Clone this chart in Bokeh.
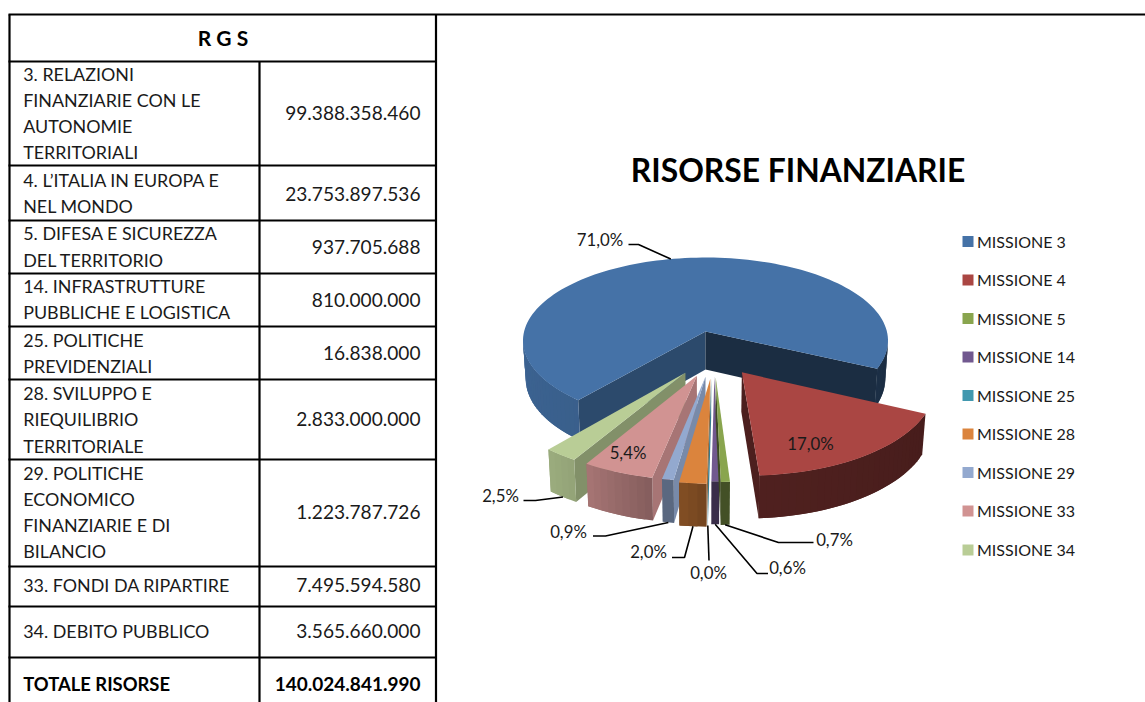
import numpy as np
from bokeh.plotting import figure
from bokeh.models import Range1d
from bokeh.core.properties import value
from bokeh.embed import file_html
from bokeh.resources import INLINE

# ---------- data ----------
missions = ["MISSIONE 3", "MISSIONE 4", "MISSIONE 5", "MISSIONE 14", "MISSIONE 25",
            "MISSIONE 28", "MISSIONE 29", "MISSIONE 33", "MISSIONE 34"]
amounts = [99388358460, 23753897536, 937705688, 810000000, 16838000,
           2833000000, 1223787726, 7495594580, 3565660000]
amount_labels = ["99.388.358.460", "23.753.897.536", "937.705.688", "810.000.000", "16.838.000",
                 "2.833.000.000", "1.223.787.726", "7.495.594.580", "3.565.660.000"]
total_label = "140.024.841.990"
row_names = [
    ["3. RELAZIONI", "FINANZIARIE CON LE", "AUTONOMIE", "TERRITORIALI"],
    ["4. L\u2019ITALIA IN EUROPA E", "NEL MONDO"],
    ["5. DIFESA E SICUREZZA", "DEL TERRITORIO"],
    ["14. INFRASTRUTTURE", "PUBBLICHE E LOGISTICA"],
    ["25. POLITICHE", "PREVIDENZIALI"],
    ["28. SVILUPPO E", "RIEQUILIBRIO", "TERRITORIALE"],
    ["29. POLITICHE", "ECONOMICO", "FINANZIARIE E DI", "BILANCIO"],
    ["33. FONDI DA RIPARTIRE"],
    ["34. DEBITO PUBBLICO"],
]
percent_labels = ["71,0%", "17,0%", "0,7%", "0,6%", "0,0%", "2,0%", "0,9%", "5,4%", "2,5%"]
colors = ["#4572A7", "#AA4643", "#89A54E", "#71588F", "#4198AF", "#DB843D", "#93A9CF", "#D19392", "#B9CD96"]

# ---------- layout (reference pixels) ----------
W, H = 1145, 702
p = figure(width=W, height=H, output_backend="svg", toolbar_location=None,
           x_range=Range1d(0, W), y_range=Range1d(H, 0),
           x_axis_type=None, y_axis_type=None, min_border=0, outline_line_color=None)
p.grid.visible = False

FONT = value("Lato")

# table
h_rows = [14, 61, 165, 220, 273, 326, 379, 459, 566, 606, 657]
hx0 = [8] * 11
hx1 = [W, 436, 436, 436, 436, 436, 436, 436, 436, 436, 436]
p.segment(x0=hx0, y0=h_rows, x1=hx1, y1=h_rows, line_color="black", line_width=2.2)
p.segment(x0=[9, 259, 435.5], y0=[14, 61, 14], x1=[9, 259, 435.5], y1=[H] * 3,
          line_color="black", line_width=2.2)

line_ys = [[73.5, 99.5, 125.5, 151.5], [179, 205], [232, 259], [285, 311], [339, 365],
           [392, 418.5, 445], [472, 498, 524, 550.5], [584], [630]]
val_ys = [112, 193, 246, 299, 352, 418, 511, 584, 630]
lx, ly, lt = [], [], []
for names, ys in zip(row_names, line_ys):
    lx += [22.7] * len(names); ly += ys; lt += names
p.text(x=lx, y=ly, text=lt, text_font=FONT, text_font_size="17.9px", text_align="left",
       text_baseline="middle", text_color="#1a1a1a")
p.text(x=[420] * 9, y=val_ys, text=amount_labels, text_font=FONT, text_font_size="19.1px",
       text_align="right", text_baseline="middle", text_color="#1a1a1a")
p.text(x=[222.5], y=[37], text=["R G S"], text_font=FONT, text_font_size="21px", text_font_style="bold",
       text_align="center", text_baseline="middle", text_color="black")
p.text(x=[22.7], y=[683], text=["TOTALE RISORSE"], text_font=FONT, text_font_size="18.4px",
       text_font_style="bold", text_align="left", text_baseline="middle", text_color="black")
p.text(x=[420], y=[683], text=[total_label], text_font=FONT, text_font_size="19px",
       text_font_style="bold", text_align="right", text_baseline="middle", text_color="black")

# title
p.text(x=[797.5], y=[169], text=["RISORSE FINANZIARIE"], text_font=FONT, text_font_size="31.8px",
       text_font_style="bold", text_align="center", text_baseline="middle", text_color="black")

# 3D pie projection
CX, CY, R, A, K = 705.0, 331.0, 181.4, 82.1, 0.11
DEPTH, DEPTH_SLOPE, SHRINK = 38.0, 0.033, 0.985
START = 220.0
explode = [(0, 0), (.19, -.472), (.053, -.525), (.046, -.52), (.03, -.53),
           (.025, -.54), (0, -.52), (-.045, -.51), (-.105, -.475)]


def top(u, v):
    w = 1 + K * v
    return CX + R * u / w, CY - A * v / w


def bottom(pt):
    x, y = pt
    return CX + (x - CX) * SHRINK, y + DEPTH + (y - CY) * DEPTH_SLOPE


def rim(theta, off):
    t = np.radians(theta)
    return top(off[0] + np.sin(t), off[1] + np.cos(t))


def shade(col, f):
    r, g, b = int(col[1:3], 16), int(col[3:5], 16), int(col[5:7], 16)
    return "#%02x%02x%02x" % (int(r * f), int(g * f), int(b * f))


def cross(a, b, c):
    return (b[0] - a[0]) * (c[1] - a[1]) - (b[1] - a[1]) * (c[0] - a[0])


def faces_away(a, b, inner):
    down = (a[0], a[1] + 1)
    return cross(a, b, inner) * cross(a, b, down) < 0


def wall_light(theta):
    return np.interp(theta % 360, [100, 115, 176, 192, 211, 220, 270, 360],
                     [.40, .42, .47, .64, .80, .84, .88, .88])


def side_light(normal):
    return np.interp(normal % 360, [98, 122, 130, 205, 267], [.82, .70, .65, .40, .45])


total = sum(amounts)
xs, ys, cs = [], [], []


def add(poly, col):
    xs.append([q[0] for q in poly]); ys.append([q[1] for q in poly]); cs.append(col)


spans = []
a0 = START
for amt in amounts:
    a1 = a0 + 360.0 * amt / total
    spans.append((a0, a1))
    a0 = a1

for i in [0, 1, 8, 7, 6, 5, 4, 3, 2]:
    t0, t1 = spans[i]
    off = explode[i]
    apex = top(off[0], off[1])
    col = colors[i]
    n = max(2, int((t1 - t0) / 2.0) + 1)
    thetas = np.linspace(t0, t1, n)
    arc = [rim(t, off) for t in thetas]
    for th, sign in ((t0, -1), (t1, 1)):
        o = rim(th, off)
        inner = rim(th - sign * min(10, (t1 - t0) / 2), off)
        if faces_away(apex, o, inner):
            add([apex, o, bottom(o), bottom(apex)], shade(col, side_light(th + sign * 90)))
    # outer wall: overlapping strips painted in order, so no seams show
    for j in range(n - 1):
        a, b = arc[j], arc[min(j + 2, n - 1)]
        if faces_away(arc[j], arc[j + 1], apex) or t1 - t0 < 15:
            add([a, b, bottom(b), bottom(a)], shade(col, wall_light((thetas[j] + thetas[j + 1]) / 2)))
    add([apex] + arc, col)

p.patches(xs=xs, ys=ys, fill_color=cs, line_color=None)

# leaders
mids = [(s[0] + s[1]) / 2 for s in spans]
ends = []
for i, m in enumerate(mids):
    pt = rim(m, explode[i])
    ends.append(pt if i == 0 else bottom(pt))
leader_ids = [0, 2, 3, 4, 5, 6, 8]
leader_knees = [[(628, 244), (638, 244)], [(813, 542), (778, 542)], [(767.5, 573), (756.5, 573)],
                [(708.5, 560)], [(671.5, 557), (684, 557)], [(592.5, 535.5), (605, 535.5)],
                [(523, 500), (535, 500)]]
lxs, lys = [], []
for i, knee in zip(leader_ids, leader_knees):
    lxs.append([q[0] for q in knee] + [ends[i][0]])
    lys.append([q[1] for q in knee] + [ends[i][1]])
p.multi_line(xs=lxs, ys=lys, line_color="black", line_width=1.6)

# data labels
lab_x = [599.5, 810, 834, 787, 708, 648, 568, 627.5, 500]
lab_y = [239, 442.5, 539, 566.5, 572, 551, 531, 451.5, 495]
p.text(x=lab_x, y=lab_y, text=percent_labels, text_font=FONT, text_font_size="16.8px",
       text_align="center", text_baseline="middle", text_color="#1a1a1a")

# legend
leg_y = [241, 279.5, 318, 356.5, 395, 433.5, 472, 510.5, 549.5]
leg_text_y = [y - 0.5 for y in leg_y]
p.rect(x=[967.5] * 9, y=leg_y, width=11, height=11, fill_color=colors, line_color=None)
p.text(x=[976.5] * 9, y=leg_text_y, text=missions, text_font=FONT, text_font_size="16px",
       text_align="left", text_baseline="middle", text_color="#1a1a1a")

open("out.html", "w").write(file_html(p, INLINE))
